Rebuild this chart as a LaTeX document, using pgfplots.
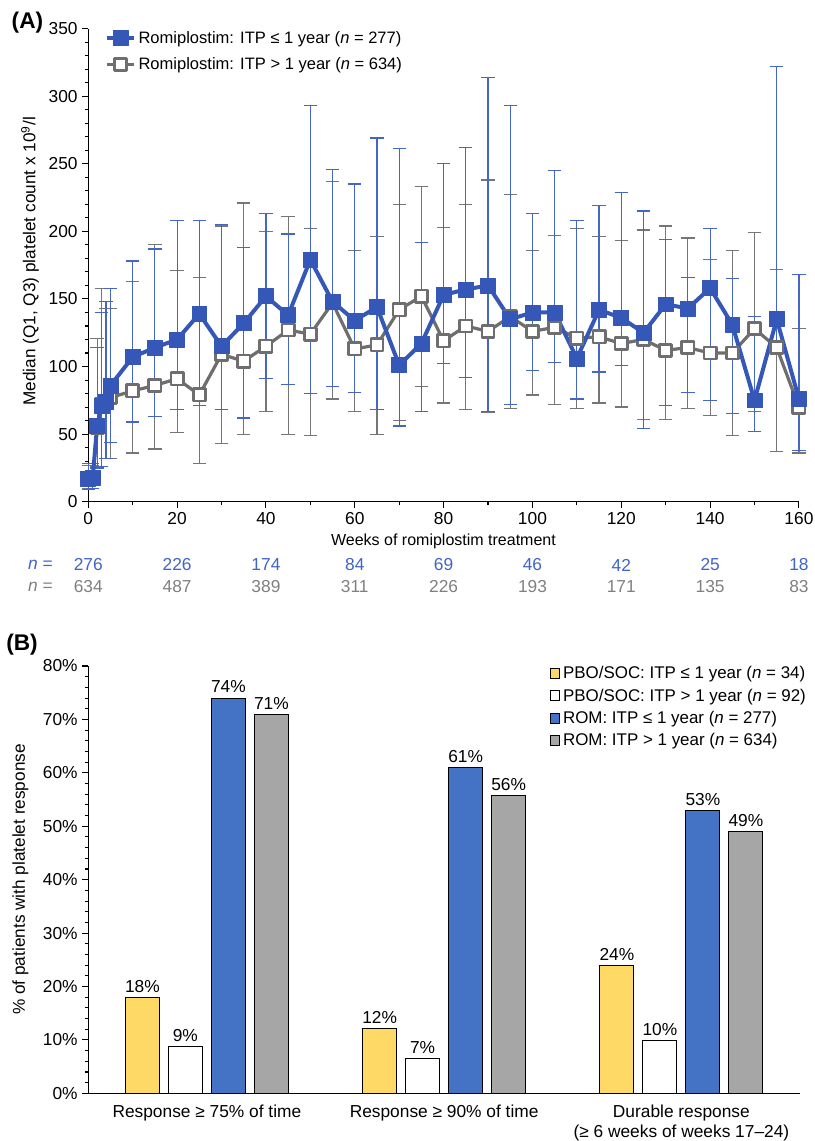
\documentclass[border=0pt]{standalone}
\usepackage{fontspec}
\setmainfont{Liberation Sans}
\usepackage{pgfplots}
\pgfplotsset{compat=1.18}
\usepackage{pgfplotstable}

\definecolor{romblue}{HTML}{3558B8}
\definecolor{errblue}{HTML}{4466C6}
\definecolor{romgray}{HTML}{6E6E6E}
\definecolor{errgray}{HTML}{767676}
\definecolor{baryellow}{HTML}{FFD966}
\definecolor{barblue}{HTML}{4472C4}
\definecolor{bargray}{HTML}{A6A6A6}
\definecolor{nblue}{HTML}{4064C8}
\definecolor{ngray}{HTML}{808080}

\pgfplotstableread{
week med q1 q3
0 17 9 28
1 18 10 28
2 56 25 114
3 71 26 140
4 74 32 148
5 86 44 158
10 107 59 178
15 114 63 187
20 120 68 208
25 139 71 208
30 115 68 205
35 132 62 188
40 152 91 213
45 138 87 198
50 179 80 293
55 148 85 246
60 134 81 235
65 144 68 269
70 101 56 261
75 117 67 192
80 153 102 250
85 157 92 262
90 160 67 314
95 135 72 293
100 140 97 213
105 140 103 245
110 106 76 208
115 142 96 219
120 136 101 229
125 125 54 215
130 146 71 194
135 143 81 166
140 158 75 202
145 131 65 165
150 75 52 137
155 135 113 322
160 76 38 168
}\bluedata

\pgfplotstableread{
week med q1 q3
0 17 10 27
1 17 10 27
2 55 26 121
3 72 26 158
4 74 32 143
5 77 32 143
10 82 36 163
15 86 39 190
20 91 51 171
25 79 28 166
30 109 43 204
35 104 50 221
40 115 67 200
45 127 50 211
50 124 49 202
55 147 76 237
60 113 67 186
65 116 50 196
70 142 60 220
75 152 85 233
80 119 73 203
85 130 68 220
90 126 66 238
95 137 69 227
100 126 79 186
105 129 72 197
110 121 69 202
115 122 73 196
120 117 70 193
125 120 61 201
130 112 61 204
135 114 69 195
140 110 64 179
145 110 49 186
150 128 67 199
155 114 37 172
160 70 36 128
}\graydata

\begin{document}
\begin{tikzpicture}[font=\fontsize{12}{14.4}\selectfont]
\useasboundingbox (0,0) rectangle (610.5pt,-855.75pt);

% ---------------- Panel A ----------------
\begin{axis}[
  at={(66.2pt,-376.3pt)}, anchor=south west,
  scale only axis, width=533pt, height=354.9pt,
  xmin=0, xmax=160, ymin=0, ymax=350,
  axis lines*=left,
  axis line style={line width=0.9pt},
  xtick={0,20,...,160}, minor x tick num=1,
  ytick={0,50,...,350}, minor y tick num=4,
  tick align=outside,
  major tick length=4.5pt, minor tick length=2.6pt,
  every tick/.style={black, line width=0.8pt},
  /pgf/number format/assume math mode=true,
  ticklabel style={font=\fontsize{13}{15}\selectfont},
  clip=false,
  reverse legend,
  legend cell align=left,
  legend style={at={(0.018,1.006)}, anchor=north west, draw=none, fill=none,
    font=\fontsize{12.4}{14.4}\selectfont, row sep=5.2pt},
  legend image code/.code={\draw[mark repeat=2,mark phase=2,#1] plot coordinates {(0cm,0cm) (0.35cm,0cm) (0.7cm,0cm)};},
]
% error bars (drawn first)
\addplot[forget plot, errgray, line width=0.9pt, only marks, mark=none,
  error bars/.cd, y dir=both, y explicit,
  error bar style={errgray, line width=0.9pt},
  error mark options={rotate=90, errgray, line width=0.9pt, mark size=5pt}]
  table[x=week, y=med, y error plus expr=\thisrow{q3}-\thisrow{med}, y error minus expr=\thisrow{med}-\thisrow{q1}] {\graydata};
\addplot[forget plot, errblue, line width=0.9pt, only marks, mark=none,
  error bars/.cd, y dir=both, y explicit,
  error bar style={errblue, line width=0.9pt},
  error mark options={rotate=90, errblue, line width=0.9pt, mark size=5pt}]
  table[x=week, y=med, y error plus expr=\thisrow{q3}-\thisrow{med}, y error minus expr=\thisrow{med}-\thisrow{q1}] {\bluedata};
% lines
\addplot[romgray, line width=2.4pt, line join=round, mark=square*, mark size=4.6pt,
  mark options={fill=white, draw=romgray, line width=2pt}]
  table[x=week, y=med] {\graydata};
\addlegendentry{Romiplostim: ITP > 1 year (\textit{n} = 634)}
\addplot[romblue, line width=3pt, line join=round, mark=square*, mark size=5.6pt,
  mark options={fill=romblue, draw=romblue, line width=0.5pt}]
  table[x=week, y=med] {\bluedata};
\addlegendentry{Romiplostim: ITP ≤ 1 year (\textit{n} = 277)}
\end{axis}

\node[font=\fontsize{17}{20}\selectfont\bfseries] at (20.6pt,-17.25pt) {(A)};
\node[rotate=90, font=\fontsize{12.9}{15}\selectfont] at (22.5pt,-196pt) {Median (Q1, Q3) platelet count x 10\textsuperscript{9}/l};
\node at (332.6pt,-405.75pt) {Weeks of romiplostim treatment};

\begin{scope}[font=\fontsize{13}{15}\selectfont]
\node[anchor=east, text=nblue] at (43pt,-423.75pt) {\textit{n} =};
\node[anchor=east, text=ngray] at (43pt,-440pt) {\textit{n} =};
\foreach \i/\a/\b in {0/276/634, 1/226/487, 2/174/389, 3/84/311, 4/69/226, 5/46/193, 6/42/171, 7/25/135, 8/18/83} {
  \node[text=nblue] at ({66.2pt+\i*66.63pt},-423.75pt) {\a};
  \node[text=ngray] at ({66.2pt+\i*66.63pt},-440pt) {\b};
}
\end{scope}

% ---------------- Panel B ----------------
\begin{axis}[
  at={(66.2pt,-820pt)}, anchor=south west,
  scale only axis, width=533.8pt, height=320.5pt,
  xmin=-0.5, xmax=2.5, ymin=0, ymax=80,
  axis lines*=left,
  axis line style={line width=0.9pt},
  xtick={0,1,2},
  xticklabels={Response ≥ 75\% of time, Response ≥ 90\% of time, {Durable response\\(≥ 6 weeks of weeks 17–24)}},
  xticklabel style={align=center, font=\fontsize{13}{15}\selectfont, yshift=-1pt},
  major x tick style={draw=none},
  ytick={0,10,...,80},
  yticklabels={0\%,10\%,20\%,30\%,40\%,50\%,60\%,70\%,80\%},
  minor y tick num=4,
  tick align=outside,
  major tick length=4.5pt, minor tick length=2.6pt,
  every tick/.style={black, line width=0.8pt},
  /pgf/number format/assume math mode=true,
  yticklabel style={font=\fontsize{13}{15}\selectfont},
  bar width=0.143, bar shift=0pt,
  nodes near coords={\pgfmathprintnumber[fixed,precision=0]{\pgfplotspointmeta}\%},
  every node near coord/.append style={font=\fontsize{13}{15}\selectfont, black},
  clip=false,
  legend cell align=left,
  legend style={at={(1.018,1.012)}, anchor=north east, draw=none, fill=none,
    font=\fontsize{12.7}{14.4}\selectfont, row sep=2pt},
  legend image code/.code={\draw[#1, line width=0.7pt] (0cm,-0.13cm) rectangle (0.26cm,0.13cm);},
]
\addplot[ybar, fill=baryellow, draw=black, line width=0.8pt]
  coordinates {(-0.272,18) (0.728,12.1) (1.728,24)};
\addlegendentry{PBO/SOC: ITP ≤ 1 year (\textit{n} = 34)}
\addplot[ybar, fill=white, draw=black, line width=0.8pt]
  coordinates {(-0.0907,8.7) (0.9093,6.6) (1.9093,9.9)};
\addlegendentry{PBO/SOC: ITP > 1 year (\textit{n} = 92)}
\addplot[ybar, fill=barblue, draw=black, line width=0.8pt]
  coordinates {(0.0907,74) (1.0907,61) (2.0907,53)};
\addlegendentry{ROM: ITP ≤ 1 year (\textit{n} = 277)}
\addplot[ybar, fill=bargray, draw=black, line width=0.8pt]
  coordinates {(0.272,70.9) (1.272,55.8) (2.272,49)};
\addlegendentry{ROM: ITP > 1 year (\textit{n} = 634)}
\end{axis}

\node[font=\fontsize{17}{20}\selectfont\bfseries] at (16.5pt,-483.75pt) {(B)};
\node[rotate=90, font=\fontsize{12.9}{15}\selectfont] at (15.4pt,-659.6pt) {\% of patients with platelet response};

\end{tikzpicture}
\end{document}
